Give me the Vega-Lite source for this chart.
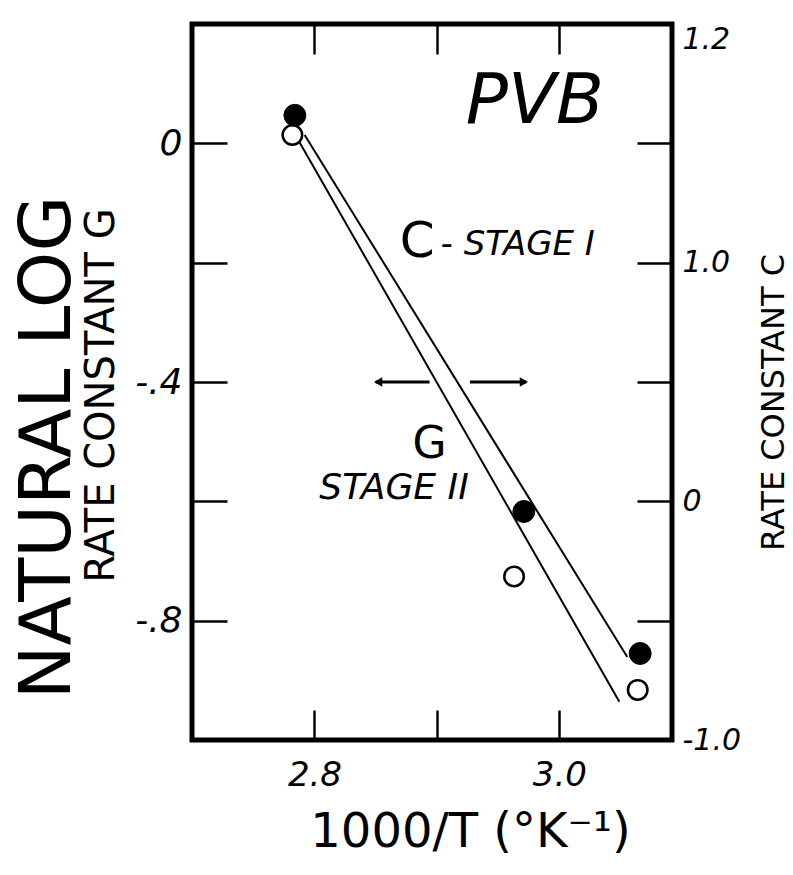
{
  "$schema": "https://vega.github.io/schema/vega-lite/v6.json",
  "width": 480,
  "height": 716,
  "autosize": "none",
  "padding": {"left": 192, "top": 24, "right": 121, "bottom": 135},
  "background": "white",
  "config": {
    "font": "DejaVu Sans",
    "view": {"stroke": "black", "strokeWidth": 5},
    "axis": {"grid": false, "domain": false, "tickColor": "black", "tickWidth": 2.5, "labelColor": "black", "titleColor": "black", "titleFontWeight": "normal", "labelFont": "DejaVu Sans", "titleFont": "DejaVu Sans"}
  },
  "datasets": {
    "lines": [
      {"series": "C", "x": 2.792, "y": 0.014},
      {"series": "C", "x": 3.0555, "y": -0.861},
      {"series": "G", "x": 2.7878, "y": 0.002},
      {"series": "G", "x": 3.049, "y": -0.936}
    ],
    "filled": [
      {"x": 2.784, "y": 0.047},
      {"x": 2.971, "y": -0.617},
      {"x": 3.066, "y": -0.855}
    ],
    "open": [
      {"x": 2.782, "y": 0.014},
      {"x": 2.963, "y": -0.726},
      {"x": 3.064, "y": -0.916}
    ],
    "arrow": [
      {"x": 2.85, "x2": 2.894, "y": -0.4},
      {"x": 2.927, "x2": 2.973, "y": -0.4}
    ],
    "headL": [{"x": 2.852, "y": -0.4}],
    "headR": [{"x": 2.971, "y": -0.4}],
    "pvb": [{"x": 2.98, "y": 0.069, "text": "PVB"}],
    "cLetter": [{"x": 2.884, "y": -0.165, "text": "C"}],
    "stage1": [{"x": 2.903, "y": -0.17, "text": "- STAGE I"}],
    "gLetter": [{"x": 2.894, "y": -0.505, "text": "G"}],
    "stage2": [{"x": 2.865, "y": -0.578, "text": "STAGE II"}]
  },
  "layer": [
    {
      "data": {"name": "lines"},
      "mark": {"type": "line", "color": "black", "strokeWidth": 2},
      "encoding": {
        "x": {"field": "x", "type": "quantitative", "scale": {"domain": [2.7, 3.092], "nice": false, "zero": false},
          "axis": {"orient": "bottom", "values": [2.8, 2.9, 3.0], "labelExpr": "datum.value < 2.85 ? '2.8' : (datum.value > 2.95 ? '3.0' : '')",
            "tickSize": -30, "labelPadding": 48, "labelFontSize": 34, "labelFontStyle": "italic",
            "title": "1000/T (°K⁻¹)", "titleFontSize": 48, "titleX": 278, "titleY": 92, "titleBaseline": "middle", "titleAlign": "center"}},
        "y": {"field": "y", "type": "quantitative", "scale": {"domain": [-1.0, 0.2], "nice": false, "zero": false},
          "axis": {"orient": "left", "values": [0, -0.2, -0.4, -0.6, -0.8],
            "labelExpr": "datum.value > -0.1 ? '0' : (abs(datum.value + 0.4) < 0.01 ? '-.4' : (abs(datum.value + 0.8) < 0.01 ? '-.8' : ''))",
            "tickSize": -35, "labelPadding": 45, "labelFontSize": 36, "labelFontStyle": "italic",
            "title": "RATE CONSTANT G", "titleFontSize": 40, "titleAngle": 270, "titleX": -91, "titleY": 371, "titleBaseline": "middle", "titleAlign": "center"}},
        "detail": {"field": "series"}
      }
    },
    {
      "data": {"name": "open"},
      "mark": {"type": "point", "filled": true, "fill": "white", "stroke": "black", "strokeWidth": 2.5, "size": 380, "opacity": 1},
      "encoding": {
        "x": {"field": "x", "type": "quantitative", "scale": {"domain": [2.7, 3.092], "nice": false, "zero": false},
          "axis": {"orient": "top", "values": [2.8, 2.9, 3.0], "labels": false, "tickSize": -30, "title": null}},
        "y": {"field": "y", "type": "quantitative", "scale": {"domain": [-1.0, 0.2], "nice": false, "zero": false},
          "axis": {"orient": "right", "values": [0.2, 0, -0.2, -0.4, -0.6, -0.8, -1.0],
            "labelExpr": "datum.value > 0.1 ? '1.2' : (abs(datum.value + 0.2) < 0.01 ? '1.0' : (abs(datum.value + 0.6) < 0.01 ? '0' : (datum.value < -0.9 ? '-1.0' : '')))",
            "labelBaseline": {"condition": {"test": "datum.value > 0.1", "value": "top"}, "value": "middle"},
            "tickSize": -35, "labelPadding": 45, "labelFontSize": 30, "labelFontStyle": "italic",
            "title": "RATE CONSTANT C", "titleFontSize": 32, "titleAngle": 270, "titleX": 101, "titleY": 378, "titleBaseline": "middle", "titleAlign": "center"}}
      }
    },
    {
      "data": {"name": "filled"},
      "mark": {"type": "point", "filled": true, "fill": "black", "stroke": "black", "strokeWidth": 1, "size": 480, "opacity": 1},
      "encoding": {
        "x": {"field": "x", "type": "quantitative", "scale": {"domain": [2.7, 3.092], "nice": false, "zero": false}, "axis": null},
        "y": {"field": "y", "type": "quantitative", "scale": {"domain": [-1.0, 0.2], "nice": false, "zero": false},
          "axis": {"orient": "left", "labels": false, "ticks": false, "domain": false,
            "title": "NATURAL LOG", "titleFontSize": 72, "titleAngle": 270, "titleX": -145, "titleY": 423, "titleBaseline": "middle", "titleAlign": "center"}}
      }
    },
    {
      "data": {"name": "arrow"},
      "mark": {"type": "rule", "color": "black", "strokeWidth": 3},
      "encoding": {
        "x": {"field": "x", "type": "quantitative", "scale": {"domain": [2.7, 3.092], "nice": false, "zero": false}, "axis": null},
        "x2": {"field": "x2"},
        "y": {"field": "y", "type": "quantitative", "scale": {"domain": [-1.0, 0.2], "nice": false, "zero": false}, "axis": null}
      }
    },
    {
      "data": {"name": "headL"},
      "mark": {"type": "point", "shape": "triangle-left", "filled": true, "color": "black", "size": 90, "opacity": 1},
      "encoding": {
        "x": {"field": "x", "type": "quantitative", "scale": {"domain": [2.7, 3.092], "nice": false, "zero": false}, "axis": null},
        "y": {"field": "y", "type": "quantitative", "scale": {"domain": [-1.0, 0.2], "nice": false, "zero": false}, "axis": null}
      }
    },
    {
      "data": {"name": "headR"},
      "mark": {"type": "point", "shape": "triangle-right", "filled": true, "color": "black", "size": 90, "opacity": 1},
      "encoding": {
        "x": {"field": "x", "type": "quantitative", "scale": {"domain": [2.7, 3.092], "nice": false, "zero": false}, "axis": null},
        "y": {"field": "y", "type": "quantitative", "scale": {"domain": [-1.0, 0.2], "nice": false, "zero": false}, "axis": null}
      }
    },
    {
      "data": {"name": "pvb"},
      "mark": {"type": "text", "fontSize": 70, "fontStyle": "italic", "color": "black", "align": "center", "baseline": "middle"},
      "encoding": {
        "x": {"field": "x", "type": "quantitative", "scale": {"domain": [2.7, 3.092], "nice": false, "zero": false}, "axis": null},
        "y": {"field": "y", "type": "quantitative", "scale": {"domain": [-1.0, 0.2], "nice": false, "zero": false}, "axis": null},
        "text": {"field": "text"}
      }
    },
    {
      "data": {"name": "cLetter"},
      "mark": {"type": "text", "fontSize": 50, "color": "black", "align": "center", "baseline": "middle"},
      "encoding": {
        "x": {"field": "x", "type": "quantitative", "scale": {"domain": [2.7, 3.092], "nice": false, "zero": false}, "axis": null},
        "y": {"field": "y", "type": "quantitative", "scale": {"domain": [-1.0, 0.2], "nice": false, "zero": false}, "axis": null},
        "text": {"field": "text"}
      }
    },
    {
      "data": {"name": "stage1"},
      "mark": {"type": "text", "fontSize": 34, "fontStyle": "italic", "color": "black", "align": "left", "baseline": "middle"},
      "encoding": {
        "x": {"field": "x", "type": "quantitative", "scale": {"domain": [2.7, 3.092], "nice": false, "zero": false}, "axis": null},
        "y": {"field": "y", "type": "quantitative", "scale": {"domain": [-1.0, 0.2], "nice": false, "zero": false}, "axis": null},
        "text": {"field": "text"}
      }
    },
    {
      "data": {"name": "gLetter"},
      "mark": {"type": "text", "fontSize": 44, "color": "black", "align": "center", "baseline": "middle"},
      "encoding": {
        "x": {"field": "x", "type": "quantitative", "scale": {"domain": [2.7, 3.092], "nice": false, "zero": false}, "axis": null},
        "y": {"field": "y", "type": "quantitative", "scale": {"domain": [-1.0, 0.2], "nice": false, "zero": false}, "axis": null},
        "text": {"field": "text"}
      }
    },
    {
      "data": {"name": "stage2"},
      "mark": {"type": "text", "fontSize": 36, "fontStyle": "italic", "color": "black", "align": "center", "baseline": "middle"},
      "encoding": {
        "x": {"field": "x", "type": "quantitative", "scale": {"domain": [2.7, 3.092], "nice": false, "zero": false}, "axis": null},
        "y": {"field": "y", "type": "quantitative", "scale": {"domain": [-1.0, 0.2], "nice": false, "zero": false}, "axis": null},
        "text": {"field": "text"}
      }
    }
  ],
  "resolve": {"axis": {"x": "independent", "y": "independent"}}
}
